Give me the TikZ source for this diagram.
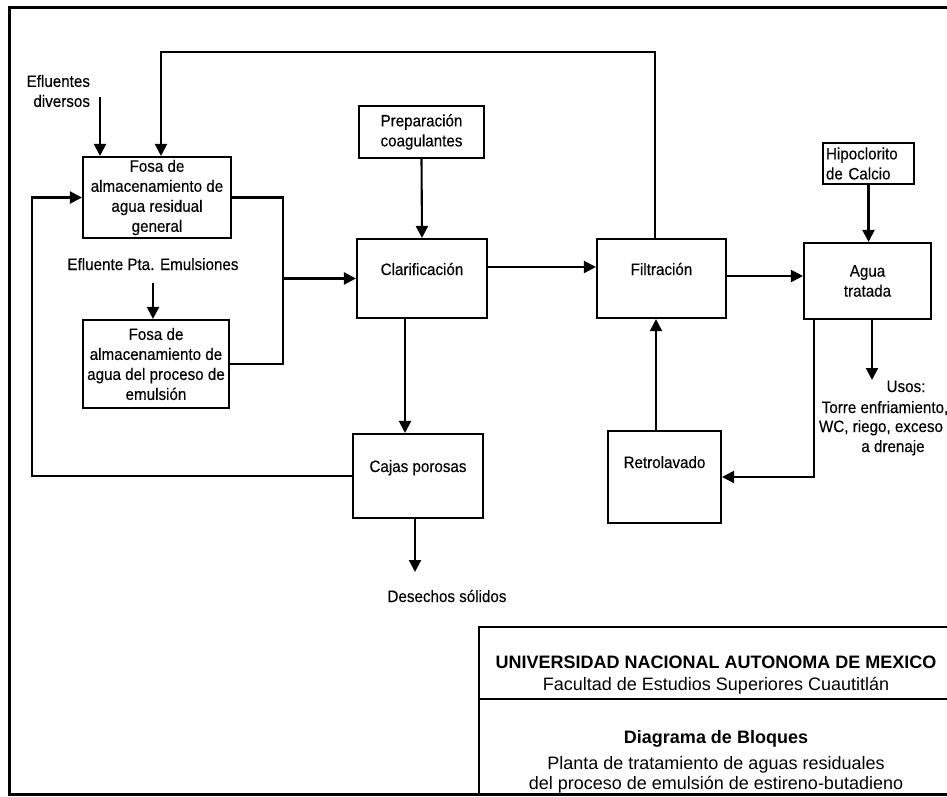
\documentclass[tikz,border=0pt]{standalone}
\usepackage{fontspec}
\setmainfont{Liberation Sans}
\newfontfamily\blockfont{Liberation Sans}[FakeStretch=0.92,FakeBold=0.3]
\usetikzlibrary{arrows.meta}
\begin{document}
\begin{tikzpicture}[x=1pt,y=-1pt,
  line width=2.1pt,
  blk/.style={draw,line width=2.1pt,inner sep=2pt,align=center,
    font=\blockfont\fontsize{16.5}{20}\selectfont},
  lbl/.style={inner sep=0pt,font=\blockfont\fontsize{16.5}{20}\selectfont},
  ttl/.style={inner sep=0pt,anchor=base,font=\fontsize{18}{20}\selectfont},
  arr/.style={-{Triangle[length=12pt,width=12pt]}},
]
\useasboundingbox (0,0) rectangle (947,796);

% page frame (open on the right)
\draw[line width=3pt] (947,7) -- (9,7) -- (9,794) -- (947,794);

% process blocks
\node[blk,minimum width=148pt,minimum height=81pt] (fosaG) at (157,197.5)
  {Fosa de\\almacenamiento de\\agua residual\\general};
\node[blk,minimum width=146pt,minimum height=88pt] (fosaE) at (156,364)
  {Fosa de\\almacenamiento de\\agua del proceso de\\emulsión};
\node[blk,minimum width=125pt,minimum height=52pt] (prep) at (421.5,132)
  {Preparación\\coagulantes};
\node[blk,minimum width=130pt,minimum height=79pt,text height=4pt,text depth=11pt] (clar) at (422,278.5)
  {Clarificación};
\node[blk,minimum width=130pt,minimum height=84pt,text height=2pt,text depth=10pt] (cajas) at (418,476)
  {Cajas porosas};
\node[blk,minimum width=129pt,minimum height=79pt,text height=4pt,text depth=11pt] (filt) at (661.5,278.5)
  {Filtración};
\node[blk,minimum width=113pt,minimum height=92pt,text height=0pt,text depth=18pt] (retro) at (664.5,477)
  {Retrolavado};
\node[blk,minimum width=127pt,minimum height=76pt] (agua) at (867.5,281)
  {Agua\\tratada};
\node[blk,align=left,minimum width=91pt,minimum height=41pt,text width=85pt] (hipo) at (868.5,163.5)
  {Hipoclorito\\de Calcio};

% free labels
\node[lbl,align=right,anchor=east] (efd) at (91,91) {Efluentes\\diversos};
\node[lbl,anchor=base] (epe) at (153,270) {Efluente Pta. Emulsiones};
\node[lbl,anchor=base] (des) at (447,602) {Desechos sólidos};
\node[lbl,anchor=base] (us1) at (906,392) {Usos:};
\node[lbl,anchor=base] (us2) at (885,413) {Torre enfriamiento,};
\node[lbl,anchor=base] (us3) at (881,432) {WC, riego, exceso};
\node[lbl,anchor=base] (us4) at (893,452) {a drenaje};

% connector end points and bends
\coordinate (edTop) at (100,97);
\coordinate (topL) at (161,52);
\coordinate (topR) at (655,52);
\coordinate (leftX) at (32,0);
\coordinate (mergeX) at (283,0);
\coordinate (epeTop) at (153,283);
\coordinate (clarX) at (405,0);
\coordinate (cfY) at (0,267);
\coordinate (faY) at (0,276);
\coordinate (usTip) at (872,380);
\coordinate (retX) at (814,0);
\coordinate (rfX) at (656,0);
\coordinate (desTip) at (415,572);

% connectors
\draw[arr] (edTop) -- (edTop |- fosaG.north);
\draw[arr] (filt.north -| topR) -- (topR) -- (topL) -- (topL |- fosaG.north);
\draw[arr] (cajas.west) -- (cajas.west -| leftX) -- (leftX |- fosaG.west) -- (fosaG.west);
\draw (fosaG.east) -- (fosaG.east -| mergeX) -- (mergeX |- fosaE.east) -- (fosaE.east);
\draw[arr] (mergeX |- clar.west) -- (clar.west);
\draw[arr] (epeTop) -- (epeTop |- fosaE.north);
\draw[arr] (prep.south) -- (clar.north);
\draw[arr] (clar.south -| clarX) -- (cajas.north -| clarX);
\draw[arr] (clar.east |- cfY) -- (filt.west |- cfY);
\draw[arr] (filt.east |- faY) -- (agua.west |- faY);
\draw[arr] (hipo.south) -- (hipo.south |- agua.north);
\draw[arr] (agua.south -| usTip) -- (usTip);
\draw[arr] (agua.south -| retX) -- (retX |- retro.east) -- (retro.east);
\draw[arr] (retro.north -| rfX) -- (filt.south -| rfX);
\draw[arr] (cajas.south -| desTip) -- (desTip);

% title block
\coordinate (tbTL) at (479,627);
\coordinate (tbDiv) at (479,699);
\coordinate (tbBL) at (479,794);
\draw (947,627) -- (tbTL) -- (tbBL);
\draw (tbDiv) -- (947,699);
\node[ttl,font=\bfseries\fontsize{18}{20}\selectfont] (t1) at (716,668) {UNIVERSIDAD NACIONAL AUTONOMA DE MEXICO};
\node[ttl] (t2) at (716,690) {Facultad de Estudios Superiores Cuautitlán};
\node[ttl,font=\bfseries\fontsize{18}{20}\selectfont] (t3) at (716,743) {Diagrama de Bloques};
\node[ttl] (t4) at (716,769) {Planta de tratamiento de aguas residuales};
\node[ttl] (t5) at (716,789) {del proceso de emulsión de estireno-butadieno};
\end{tikzpicture}
\end{document}
